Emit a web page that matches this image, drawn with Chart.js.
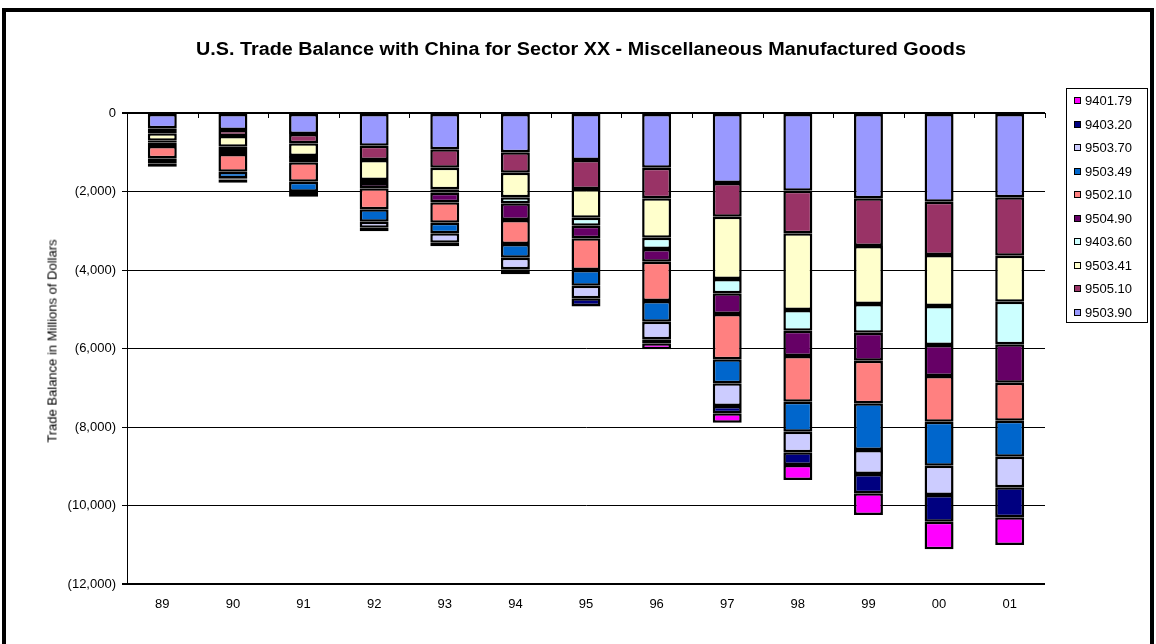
<!DOCTYPE html>
<html><head><meta charset="utf-8">
<script src="https://cdn.jsdelivr.net/npm/chart.js@4"></script>
<style>
html,body{margin:0;padding:0;background:#fff;overflow:hidden;}
#wrap{position:relative;width:1156px;height:644px;font-family:"Liberation Sans",Arial,sans-serif;}
#frame{position:absolute;left:2px;top:8px;width:1144px;height:700px;border:4px solid #000;}
#c{position:absolute;left:0;top:0;}
#title{position:absolute;left:581px;top:49px;transform-origin:center;white-space:nowrap;font-weight:bold;font-size:18px;color:#000;line-height:20px;}
#ytitle{position:absolute;left:52px;top:341px;transform:translate(-50%,-50%) rotate(-90deg);white-space:nowrap;font-size:13px;color:#000;}
#legend{position:absolute;left:1066px;top:88px;width:82px;height:235px;border:1px solid #000;box-sizing:border-box;}
.li{position:absolute;left:7px;height:16px;line-height:16px;font-size:13px;color:#000;white-space:nowrap;}
.mk{display:inline-block;width:5px;height:5px;border:1px solid #000;vertical-align:middle;margin-right:4px;position:relative;top:-1px;}
</style></head>
<body><div id="wrap">
<div id="frame"></div>
<canvas id="c" width="1156" height="644"></canvas>
<div id="title">U.S. Trade Balance with China for Sector XX - Miscellaneous Manufactured Goods</div>
<div id="ytitle">Trade Balance in Millions of Dollars</div>
<div id="legend"></div>
</div>
<script>
// Categories (years)
const years = ["89","90","91","92","93","94","95","96","97","98","99","00","01"];
// Series (stack order from zero downward), values in millions of dollars
const s950390 = [-390,-433,-535,-833,-925,-1001,-1197,-1393,-1783,-1979,-2174,-2259,-2148];
const s950510 = [-127,-153,-237,-364,-468,-520,-739,-781,-859,-1087,-1215,-1359,-1488];
const s950341 = [-189,-273,-324,-510,-551,-627,-731,-1003,-1587,-1953,-1477,-1299,-1172];
const s940360 = [-40,-58,-50,-76,-86,-153,-204,-288,-365,-527,-731,-994,-1085];
const s950490 = [-95,-128,-110,-136,-245,-425,-321,-323,-527,-645,-714,-790,-978];
const s950210 = [-313,-450,-494,-535,-520,-612,-808,-1002,-1154,-1164,-1086,-1163,-968];
const s950349 = [-128,-169,-255,-315,-271,-348,-400,-526,-612,-764,-1189,-1122,-918];
const s950370 = [-43,-30,-33,-153,-238,-296,-321,-450,-578,-526,-611,-746,-779];
const s940320 = [-43,-81,-94,-84,-85,-120,-196,-102,-186,-323,-493,-681,-765];
const s940179 = [-5,-5,-5,-5,-5,-5,-10,-152,-239,-382,-552,-703,-705];
// Y-axis tick values
const yTicks = [0,-2000,-4000,-6000,-8000,-10000,-12000];

const seriesLabels = ["9503.90","9505.10","9503.41","9403.60","9504.90","9502.10","9503.49","9503.70","9403.20","9401.79"];
const seriesData = [s950390,s950510,s950341,s940360,s950490,s950210,s950349,s950370,s940320,s940179];
const seriesColors = ["#9999FF","#993366","#FFFFCC","#CCFFFF","#660066","#FF8080","#0066CC","#CCCCFF","#000080","#FF00FF"];

const datasets = seriesLabels.map((l,i)=>({
  label:l, data:seriesData[i], backgroundColor:seriesColors[i],
  borderColor:"#000", borderWidth:2.5, borderSkipped:false,
  categoryPercentage:1.0, barPercentage:0.41
}));

function fmt(v){
  if(v===0) return "0";
  const a = Math.abs(v).toLocaleString("en-US");
  return v<0 ? "("+a+")" : a;
}

const topTicks = {
  id:"topTicks",
  afterDatasetsDraw(chart){
    const xs = chart.scales.x, ys = chart.scales.y, ctx = chart.ctx;
    const y0 = ys.getPixelForValue(0);
    const step = xs.getPixelForValue(1) - xs.getPixelForValue(0);
    ctx.save();
    ctx.strokeStyle="#000"; ctx.lineWidth=1;
    for(let i=0;i<=years.length;i++){
      const x = Math.round(xs.getPixelForValue(i) - step/2)+0.5;
      ctx.beginPath(); ctx.moveTo(x,y0); ctx.lineTo(x,y0+5); ctx.stroke();
    }
    ctx.lineWidth=2;
    ctx.beginPath(); ctx.moveTo(chart.chartArea.left,y0); ctx.lineTo(chart.chartArea.right,y0); ctx.stroke();
    ctx.restore();
  }
};

new Chart(document.getElementById("c"),{
  type:"bar",
  data:{labels:years, datasets},
  options:{
    responsive:false, animation:false,
    layout:{padding:{top:113,right:111,left:0,bottom:0}},
    plugins:{legend:{display:false},title:{display:false},tooltip:{enabled:false}},
    scales:{
      x:{stacked:true,
        grid:{display:false,drawTicks:false},
        border:{display:false},
        ticks:{color:"#000",font:{family:"Liberation Sans, Arial",size:13},padding:13,maxRotation:0},
        afterFit(s){s.height=60;}
      },
      y:{stacked:true,min:-12000,max:0,
        afterBuildTicks(s){s.ticks=yTicks.map(v=>({value:v}));},
        grid:{color:"#000",lineWidth:(c)=> (c.tick && (c.tick.value===0||c.tick.value===-12000))?2:1,tickLength:5,tickColor:"#000"},
        border:{display:true,color:"#000",width:1},
        ticks:{color:"#000",font:{family:"Liberation Sans, Arial",size:13},padding:6,callback:(v)=>fmt(v)},
        afterFit(s){s.width=127;}
      }
    }
  },
  plugins:[topTicks]
});

// Title: stretch horizontally to the original's width
const t = document.getElementById("title");
const w = t.getBoundingClientRect().width;
const sx = 770 / w;
t.style.transform = "translate(-50%,-50%) scaleX(" + sx.toFixed(3) + ")";

// HTML legend (reverse order, as in the original)
const lg = document.getElementById("legend");
for(let k=seriesLabels.length-1, r=0;k>=0;k--,r++){
  const d=document.createElement("div");
  d.className="li"; d.style.top=(4+23.5*r)+"px";
  d.innerHTML='<span class="mk" style="background:'+seriesColors[k]+'"></span>'+seriesLabels[k];
  lg.appendChild(d);
}
</script>
</body></html>
